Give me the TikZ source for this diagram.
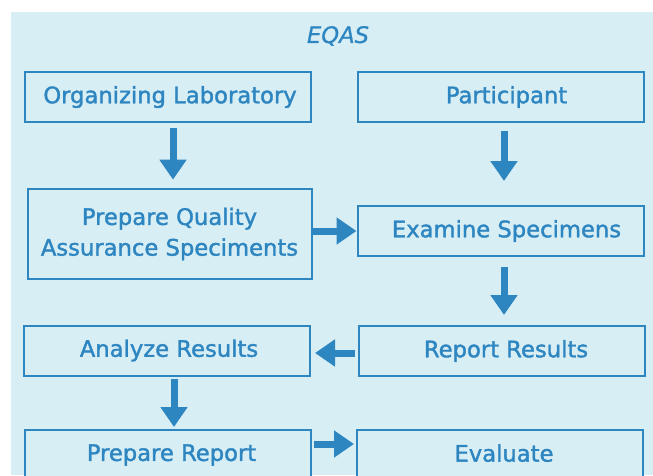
\documentclass[tikz,border=0pt]{standalone}
\usepackage{fontspec}
\setmainfont{DejaVu Sans}
\newfontface\stagefont{DejaVu Sans}[RawFeature={embolden=1.6}]
\newfontface\titlefont{DejaVu Sans Oblique}[RawFeature={embolden=0.8}]
\usetikzlibrary{arrows.meta,calc}
\definecolor{panelbg}{RGB}{216,238,245}
\definecolor{flowblue}{RGB}{46,134,193}
\tikzset{
  stagebox/.style={draw=flowblue, line width=1.5pt, fill=panelbg, text=flowblue,
    font=\stagefont\fontsize{17}{23}\selectfont, align=center, inner sep=0pt,
    minimum width=214.5pt, minimum height=37.5pt},
  flowarrow/.style={draw=flowblue, line width=5.25pt,
    -{Triangle[width=19.5pt,length=15pt]}, flowblue},
}
\begin{document}
\begin{tikzpicture}[x=0.75pt,y=-0.75pt]
\useasboundingbox (0,0) rectangle (653,475);
\fill[panelbg] (11,12) rectangle (653,475);
\node[text=flowblue, font=\titlefont\fontsize{17}{20}\selectfont] (title) at (338,36) {EQAS};

% laboratory column (left) and participant column (right)
\node[stagebox] (org)  at (168,97)    {\hspace*{3pt}Organizing Laboratory};
\node[stagebox] (part) at (500.5,97)  {\hspace*{9pt}Participant};
\node[stagebox, minimum width=213pt, minimum height=68pt] (prep) at (169.5,234)
  {Prepare Quality\\Assurance Speciments};
\node[stagebox] (exam)   at (500.5,231) {\hspace*{9pt}Examine Specimens};
\node[stagebox] (report) at (502,351)   {\hspace*{6pt}Report Results};
\node[stagebox] (anal)   at (167,350.5) {\hspace*{3pt}Analyze Results};
% bottom row runs past the lower edge of the panel
\node[stagebox] (prepr)  at (167.5,455) {\raisebox{3pt}{\hspace*{6pt}Prepare Report}};
\node[stagebox] (eval)   at (500,455)   {\raisebox{3pt}{\hspace*{6pt}Evaluate}};

% flow arrows
\draw[flowarrow] ($(org.south)+(5,5)$) coordinate (a1)
  -- ($(a1 |- prep.north)+(0,-8)$);
\draw[flowarrow] ($(part.south)+(3.5,8)$) coordinate (a2)
  -- ($(a2 |- exam.north)+(0,-24)$);
\draw[flowarrow] ($(prep.east)+(0,-3)$) coordinate (a3)
  -- (a3 -| exam.west);
\draw[flowarrow] ($(exam.south)+(3.5,10)$) coordinate (a4)
  -- ($(a4 |- report.north)+(0,-10)$);
\draw[flowarrow] ($(report.west)+(-3,2)$) coordinate (a5)
  -- ($(a5 -| anal.east)+(4,0)$);
\draw[flowarrow] ($(anal.south)+(7,2)$) coordinate (a6)
  -- ($(a6 |- prepr.north)+(0,-2)$);
\draw[flowarrow] ($(prepr.north east)+(2,15)$) coordinate (a7)
  -- ($(a7 -| eval.west)+(-2,0)$);
\end{tikzpicture}
\end{document}
